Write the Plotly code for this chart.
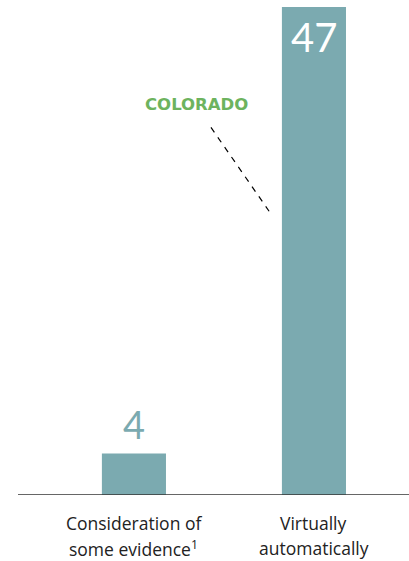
import plotly.graph_objects as go

categories = ["Consideration of some evidence", "Virtually automatically"]
label_lines = [["Consideration of", "some evidence<sup>1</sup>"], ["Virtually", "automatically"]]
values = [4, 47]
annotation_text = "COLORADO"

BAR = "#7BAAB0"
NUMFONT = "Lato, 'Open Sans', sans-serif"
FONT = "'Open Sans', sans-serif"

fig = go.Figure()
fig.add_trace(go.Bar(
    x=[0, 1], y=values, width=0.356,
    marker=dict(color=BAR, line=dict(width=0)),
    hoverinfo="skip",
))

# value labels
fig.add_annotation(x=0, y=values[0], text=str(values[0]), showarrow=False,
                   yanchor="bottom", yshift=4, font=dict(family=NUMFONT, size=38, color=BAR))
fig.add_annotation(x=1, y=values[1], text=str(values[1]), showarrow=False,
                   yanchor="top", yshift=-4, font=dict(family=NUMFONT, size=40, color="white"))

# category labels (two lines each)
for i, lines in enumerate(label_lines):
    for j, line in enumerate(lines):
        fig.add_annotation(x=i, xref="x", y=0, yref="y", text=line, showarrow=False,
                           yanchor="middle", yshift=-28 - 25 * j,
                           font=dict(family=FONT, size=17.5, color="#222222"))

# COLORADO callout
fig.add_annotation(x=0.345, y=37.6, text="<b>" + annotation_text + "</b>", showarrow=False,
                   font=dict(family="'DejaVu Sans', sans-serif", size=16.5, color="#6DB35E"))
fig.add_shape(type="line", x0=0.428, y0=35.4, x1=0.756, y1=27.2,
              line=dict(color="black", width=1.2, dash="6px,6px"))

fig.update_layout(
    width=409, height=561,
    margin=dict(l=18, r=0, t=7, b=66),
    paper_bgcolor="white", plot_bgcolor="white",
    showlegend=False,
    xaxis=dict(range=[-0.644, 1.528], showticklabels=False, showgrid=False,
               zeroline=False, showline=False, ticks=""),
    yaxis=dict(range=[0, 47], showticklabels=False, showgrid=False,
               zeroline=False, showline=False, ticks=""),
)
fig.add_shape(type="line", xref="paper", yref="y", x0=0, x1=1, y0=0, y1=0,
              line=dict(color="#333333", width=1.3))

fig.write_html("out.html", config={"displayModeBar": False},
               post_script="document.body.style.margin='0';")
